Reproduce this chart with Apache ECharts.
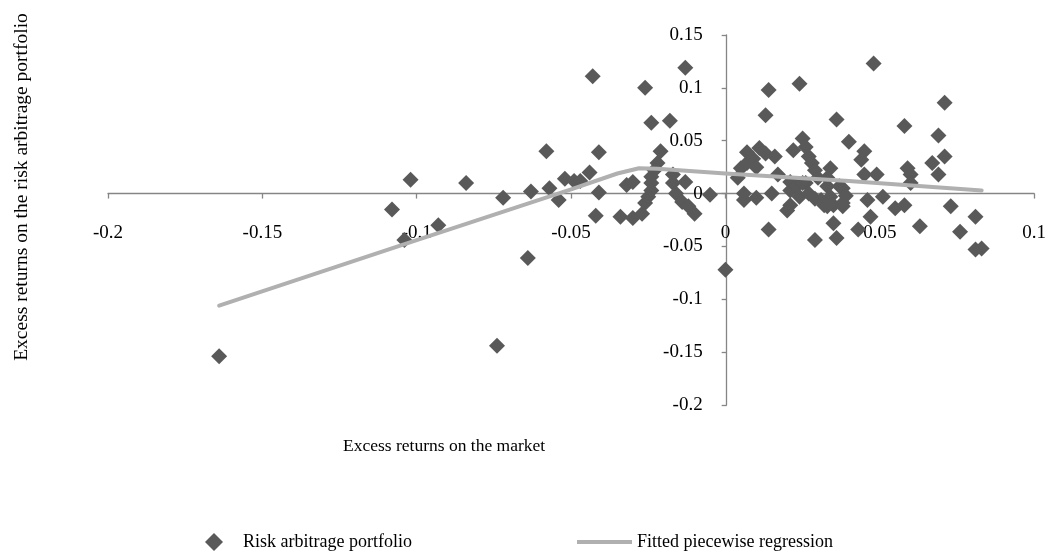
<!DOCTYPE html>
<html>
<head>
<meta charset="utf-8">
<script src="https://cdn.jsdelivr.net/npm/echarts@6/dist/echarts.min.js"></script>
<style>
  html, body { margin: 0; padding: 0; background: #fff; }
  #chart { width: 1049px; height: 554px; }
</style>
</head>
<body>
<div id="chart"></div>
<script>
// Monthly excess returns: market (x) vs. risk arbitrage portfolio (y)
const marketExcess = [
  -0.164, -0.108, -0.104, -0.102, -0.093, -0.084, -0.074, -0.072, -0.064, -0.063,
  -0.058, -0.057, -0.054, -0.052, -0.049, -0.047, -0.044, -0.043, -0.041, -0.041,
  -0.042, -0.034, -0.032, -0.030, -0.030, -0.027, -0.026, -0.026, -0.024, -0.018,
  -0.013, -0.021, -0.022, -0.023, -0.024, -0.024, -0.024, -0.025, -0.017, -0.017,
  -0.013, -0.016, -0.014, -0.012, -0.010, -0.005, 0.000,
  0.004, 0.005, 0.007, 0.007, 0.009, 0.010, 0.011, 0.013, 0.016, 0.006,
  0.006, 0.010, 0.013, 0.014, 0.014, 0.015, 0.017, 0.021, 0.021, 0.022,
  0.024, 0.025, 0.026, 0.027, 0.028, 0.029, 0.030, 0.023, 0.024, 0.021,
  0.020, 0.026, 0.027, 0.029, 0.029, 0.032, 0.034, 0.033, 0.033, 0.034,
  0.035, 0.036, 0.036, 0.035, 0.037, 0.038, 0.039, 0.038, 0.040, 0.043,
  0.044, 0.045, 0.045, 0.046, 0.047, 0.048, 0.049, 0.051, 0.055, 0.058,
  0.058, 0.059, 0.060, 0.060, 0.063, 0.067, 0.069, 0.069, 0.071, 0.071,
  0.073, 0.076, 0.081, 0.081, 0.083, 0.031, 0.033, 0.025, 0.038
];
const portfolioExcess = [
  -0.154, -0.015, -0.044, 0.013, -0.030, 0.010, -0.144, -0.004, -0.061, 0.002,
  0.040, 0.005, -0.006, 0.014, 0.012, 0.012, 0.020, 0.111, 0.039, 0.001,
  -0.021, -0.022, 0.008, 0.011, -0.023, -0.019, -0.009, 0.100, 0.067, 0.069,
  0.119, 0.040, 0.029, 0.022, 0.016, 0.010, 0.003, -0.003, 0.018, 0.010,
  0.011, 0.000, -0.008, -0.012, -0.019, -0.001, -0.072,
  0.015, 0.024, 0.039, 0.029, 0.033, 0.025, 0.043, 0.038, 0.035, 0.000,
  -0.006, -0.004, 0.074, 0.098, -0.034, 0.000, 0.018, 0.011, 0.003, 0.041,
  0.104, 0.052, 0.044, 0.035, 0.029, 0.022, 0.015, 0.007, -0.003, -0.011,
  -0.016, 0.010, 0.000, -0.005, -0.044, -0.011, 0.024, 0.015, 0.007, -0.003,
  -0.028, -0.042, 0.070, -0.011, 0.007, 0.005, -0.002, -0.012, 0.049, -0.034,
  0.032, 0.040, 0.018, -0.006, -0.022, 0.123, 0.018, -0.003, -0.014, -0.011,
  0.064, 0.024, 0.018, 0.010, -0.031, 0.029, 0.055, 0.018, 0.035, 0.086,
  -0.012, -0.036, -0.022, -0.053, -0.052, -0.006, -0.012, 0.010, -0.009
];

// Fitted piecewise regression (kink just below zero market return)
const fitMarket = [-0.164, -0.100, -0.050, -0.035, -0.028, -0.022, 0.000, 0.040, 0.083];
const fitPortfolio = [-0.106, -0.044, 0.004, 0.019, 0.024, 0.0235, 0.019, 0.012, 0.003];

const xTicks = { min: -0.2, max: 0.1, step: 0.05 };
const yTicks = { min: -0.2, max: 0.15, step: 0.05 };

const FONT = '"Liberation Serif", "Times New Roman", serif';
const AXIS_GREY = '#868686';

// Plot area
const GRID = { left: 108, right: 13, top: 35, bottom: 149 };
const W = 1049, H = 554;
const plotW = W - GRID.left - GRID.right;
const plotH = H - GRID.top - GRID.bottom;
// Shift the axes so they cross at the origin (labels and ticks travel with them)
const xAxisOffset = -plotH * (0 - yTicks.min) / (yTicks.max - yTicks.min);
const yAxisOffset = -plotW * (0 - xTicks.min) / (xTicks.max - xTicks.min);

const scatterData = marketExcess.map((x, i) => [x, portfolioExcess[i]]);
const fitData = fitMarket.map((x, i) => [x, fitPortfolio[i]]);

const fmt = v => {
  const r = Math.round(v * 1000) / 1000;
  return r === 0 ? '0' : String(r);
};

const chart = echarts.init(document.getElementById('chart'), null, { renderer: 'canvas' });
chart.setOption({
  animation: false,
  backgroundColor: '#ffffff',
  grid: Object.assign({ containLabel: false }, GRID),
  xAxis: {
    type: 'value', position: 'bottom', offset: xAxisOffset,
    min: xTicks.min, max: xTicks.max, interval: xTicks.step,
    axisLine: { onZero: false, lineStyle: { color: AXIS_GREY, width: 1.3 } },
    axisTick: { show: true, length: 5, lineStyle: { color: AXIS_GREY, width: 1.3 } },
    axisLabel: { margin: 30, color: '#000', fontFamily: FONT, fontSize: 19, formatter: fmt },
    splitLine: { show: false }
  },
  yAxis: {
    type: 'value', position: 'left', offset: yAxisOffset,
    min: yTicks.min, max: yTicks.max, interval: yTicks.step,
    axisLine: { onZero: false, lineStyle: { color: AXIS_GREY, width: 1.3 } },
    axisTick: { show: true, length: 5, lineStyle: { color: AXIS_GREY, width: 1.3 } },
    axisLabel: { margin: 24, color: '#000', fontFamily: FONT, fontSize: 19, formatter: fmt },
    splitLine: { show: false }
  },
  legend: [
    {
      data: [{ name: 'Risk arbitrage portfolio', icon: 'diamond' }],
      left: 200, top: 528,
      itemWidth: 18, itemHeight: 18, itemGap: 0,
      textStyle: { fontFamily: FONT, fontSize: 18, color: '#000', padding: [0, 0, 0, 15] }
    },
    {
      data: [{ name: 'Fitted piecewise regression', icon: 'rect' }],
      left: 572, top: 528,
      itemWidth: 55, itemHeight: 4, itemGap: 0,
      textStyle: { fontFamily: FONT, fontSize: 18, color: '#000' }
    }
  ],
  graphic: [
    {
      type: 'text', left: 343, top: 437,
      style: { text: 'Excess returns on the market', font: '17.5px ' + FONT, fill: '#000' }
    },
    {
      type: 'text', rotation: Math.PI / 2,
      x: 12, y: 187,
      style: {
        text: 'Excess returns on the risk arbitrage portfolio',
        font: '19.5px ' + FONT, fill: '#000',
        align: 'center', verticalAlign: 'top'
      }
    }
  ],
  series: [
    {
      name: 'Risk arbitrage portfolio',
      type: 'scatter',
      symbol: 'diamond',
      symbolSize: 16,
      itemStyle: { color: '#595959', opacity: 1 },
      data: scatterData,
      z: 2
    },
    {
      name: 'Fitted piecewise regression',
      type: 'line',
      symbol: 'none',
      showSymbol: false,
      lineStyle: { color: '#b0b0b0', width: 4, join: 'round', cap: 'round' },
      itemStyle: { color: '#b0b0b0' },
      data: fitData,
      z: 3
    }
  ]
});
</script>
</body>
</html>
